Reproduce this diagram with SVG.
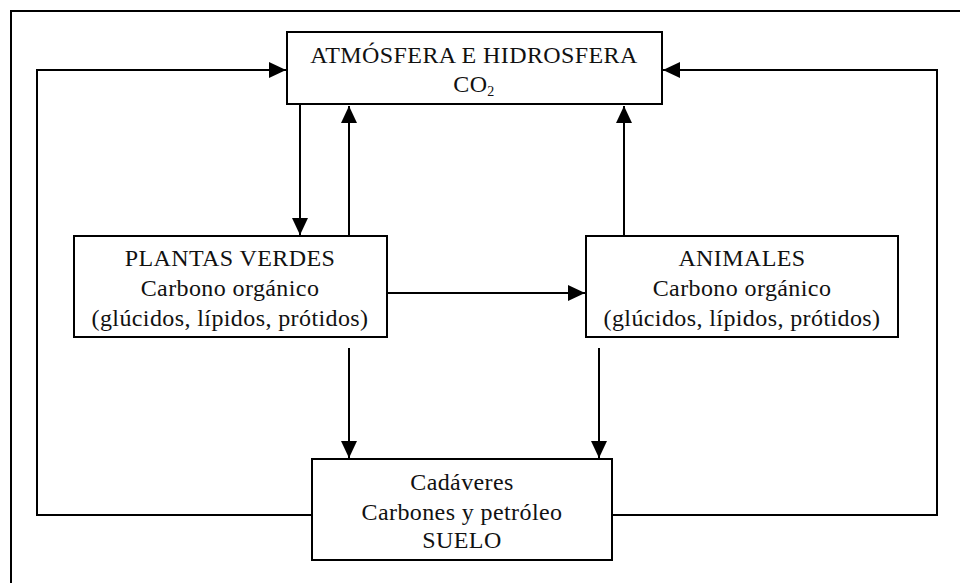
<svg xmlns="http://www.w3.org/2000/svg" width="960" height="583" viewBox="0 0 960 583">
<style>
.box{fill:#fff;stroke:#000;stroke-width:2}
.ln{fill:none;stroke:#000;stroke-width:2}
.t{font-family:'Liberation Serif','Times New Roman',serif;font-size:24px;fill:#111;text-anchor:middle;letter-spacing:0.4px}
</style>
<defs>
<marker id="ah" markerUnits="userSpaceOnUse" markerWidth="17" markerHeight="16" viewBox="0 0 17 16" refX="17" refY="8" orient="auto">
<path d="M0,0 L17,8 L0,16 Z" fill="#000"/>
</marker>
</defs>
<rect width="960" height="583" fill="#fff"/>
<path class="ln" d="M11,590 V11 H970"/>
<g id="connectors">
<path class="ln" d="M300,104 V235" marker-end="url(#ah)"/>
<path class="ln" d="M349,236 V106" marker-end="url(#ah)"/>
<path class="ln" d="M624,236 V106" marker-end="url(#ah)"/>
<path class="ln" d="M387,293 H585" marker-end="url(#ah)"/>
<path class="ln" d="M349,348 V458" marker-end="url(#ah)"/>
<path class="ln" d="M599,348 V458" marker-end="url(#ah)"/>
<path class="ln" d="M312,515 H37 V70 H286" marker-end="url(#ah)"/>
<path class="ln" d="M612,515 H937 V70 H663" marker-end="url(#ah)"/>
</g>
<g id="atmosfera">
<rect class="box" x="287" y="32" width="375" height="72"/>
<text class="t" font-family="Liberation Serif, serif" x="474" y="63">ATMÓSFERA E HIDROSFERA</text>
<text class="t" font-family="Liberation Serif, serif" x="474" y="92">CO<tspan font-size="14" dy="4">2</tspan></text>
</g>
<g id="plantas">
<rect class="box" x="74" y="236" width="313" height="101"/>
<text class="t" font-family="Liberation Serif, serif" x="230" y="266">PLANTAS VERDES</text>
<text class="t" font-family="Liberation Serif, serif" x="230" y="296">Carbono orgánico</text>
<text class="t" font-family="Liberation Serif, serif" x="230" y="326">(glúcidos, lípidos, prótidos)</text>
</g>
<g id="animales">
<rect class="box" x="586" y="236" width="312" height="101"/>
<text class="t" font-family="Liberation Serif, serif" x="742" y="266">ANIMALES</text>
<text class="t" font-family="Liberation Serif, serif" x="742" y="296">Carbono orgánico</text>
<text class="t" font-family="Liberation Serif, serif" x="742" y="326">(glúcidos, lípidos, prótidos)</text>
</g>
<g id="suelo">
<rect class="box" x="312" y="459" width="300" height="101"/>
<text class="t" font-family="Liberation Serif, serif" x="462" y="490">Cadáveres</text>
<text class="t" font-family="Liberation Serif, serif" x="462" y="520">Carbones y petróleo</text>
<text class="t" font-family="Liberation Serif, serif" x="462" y="548">SUELO</text>
</g>
</svg>
